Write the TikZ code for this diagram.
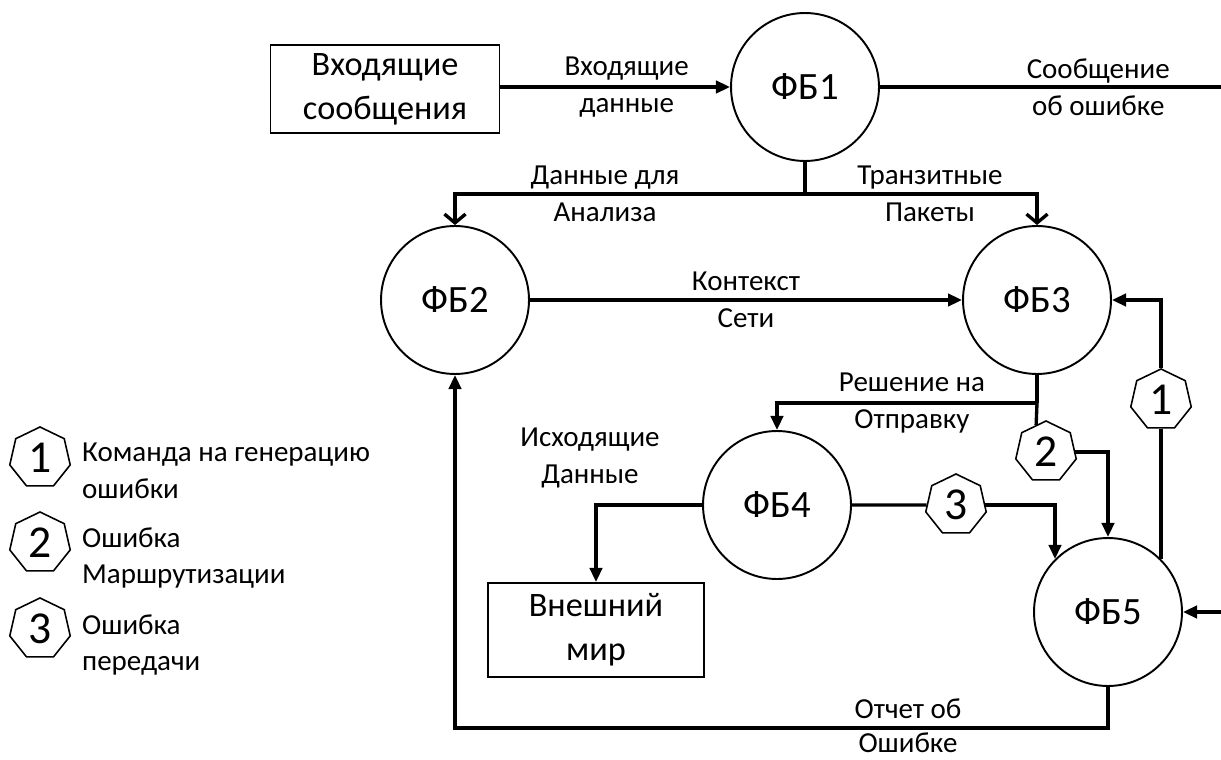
\documentclass[tikz,border=0pt]{standalone}
\usepackage{fontspec}
\setmainfont{Carlito}
\usepackage{tikz}
\usetikzlibrary{shapes.geometric, arrows.meta, positioning}

\begin{document}
\begin{tikzpicture}[x=0.02cm, y=-0.02cm,
  fb/.style={circle, draw, line width=1.1pt, minimum size=2.96cm, font=\fontsize{22}{26}\selectfont},
  block/.style={rectangle, draw, line width=1.1pt, align=center, font=\fontsize{19.5}{25}\selectfont},
  marker/.style={regular polygon, regular polygon sides=7, draw, line width=0.9pt, minimum size=1.24cm, inner sep=0pt, font=\fontsize{26}{26}\selectfont},
  lbl/.style={align=center, font=\fontsize{16.5}{21}\selectfont},
  flow/.style={line width=1.9pt, -{Triangle[length=8pt,width=7pt]}},
  split/.style={line width=1.9pt, -{Straight Barb[length=5pt,width=12pt]}},
  link/.style={line width=1.9pt}]
\useasboundingbox (0,0) rectangle (1221,760);

% blocks
\node[block, minimum width=4.58cm, minimum height=1.76cm] (inbox) at (385,89) {Входящие\\сообщения};
\node[block, minimum width=4.32cm, minimum height=1.88cm] (outbox) at (596,630) {Внешний\\мир};

\node[fb] (fb1) at (805,87) {ФБ1};
\node[fb] (fb2) at (455,300) {ФБ2};
\node[fb] (fb3) at (1037,300) {ФБ3};
\node[fb] (fb4) at (777,505) {ФБ4};
\node[fb] (fb5) at (1108,612) {ФБ5};

% error markers
\node[marker] (h1) at (1161,400) {1};
\node[marker] (h2) at (1046,452) {2};
\node[marker] (h3) at (956,505) {3};

\coordinate (errout) at (1221,87);
\coordinate (errin) at (1221,612);
\coordinate (split1) at (805,194);
\coordinate (split2) at (1037,403);

\draw[flow] (inbox.east |- fb1.west) -- node[lbl, pos=0.55] (lin) {Входящие\\данные} (fb1.west);
\draw[link] (fb1.east) -- node[lbl, pos=0.64] (lerr) {Сообщение\\об ошибке} (errout);

\draw[link] (fb1.south) -- (split1);
\draw[split] (split1) -| (fb2.north);
\draw[split] (split1) -| (fb3.north);
\node[lbl] (lan) at (605,194) {Данные для\\Анализа};
\node[lbl] (ltr) at (930,194) {Транзитные\\Пакеты};

\draw[flow] (fb2) -- node[lbl] (lctx) {Контекст\\Сети} (fb3);

\draw[link] (fb3.south) -- (split2);
\draw[flow] (split2) -| (fb4.north);
\node[lbl] (lsend) at (912,403) {Решение на\\Отправку};
\draw[link] (split2) -- (h2.110);
\draw[flow] (h2.east) -| (fb5.north);

\draw[link] (fb4.east) -- (h3.west);
\draw[flow] (h3.east) -| (fb5.north west);

\draw[link] (fb5.north east) -- (fb5.north east |- h1.south);
\draw[flow] (h1.north) |- (fb3.east);
\draw[flow] (errin) -- (fb5.east);

\draw[flow] (fb5.south) -- ++(0,41) -| (fb2.south);
\node[lbl, font=\fontsize{16.5}{19.5}\selectfont] (lrep) at (908,726) {Отчет об\\Ошибке};

\draw[flow] (fb4.west) -| (outbox.north);
\node[lbl] (lout) at (590,458) {Исходящие\\Данные};

% legend
\node[marker] (k1) at (40,458) {1};
\node[lbl, anchor=west, align=left] (t1) at (76,471) {Команда на генерацию\\ошибки};
\node[marker] (k2) at (40,543) {2};
\node[lbl, anchor=west, align=left] (t2) at (76,558) {Ошибка\\Маршрутизации};
\node[marker] (k3) at (40,629) {3};
\node[lbl, anchor=west, align=left] (t3) at (76,645) {Ошибка\\передачи};
\end{tikzpicture}
\end{document}
